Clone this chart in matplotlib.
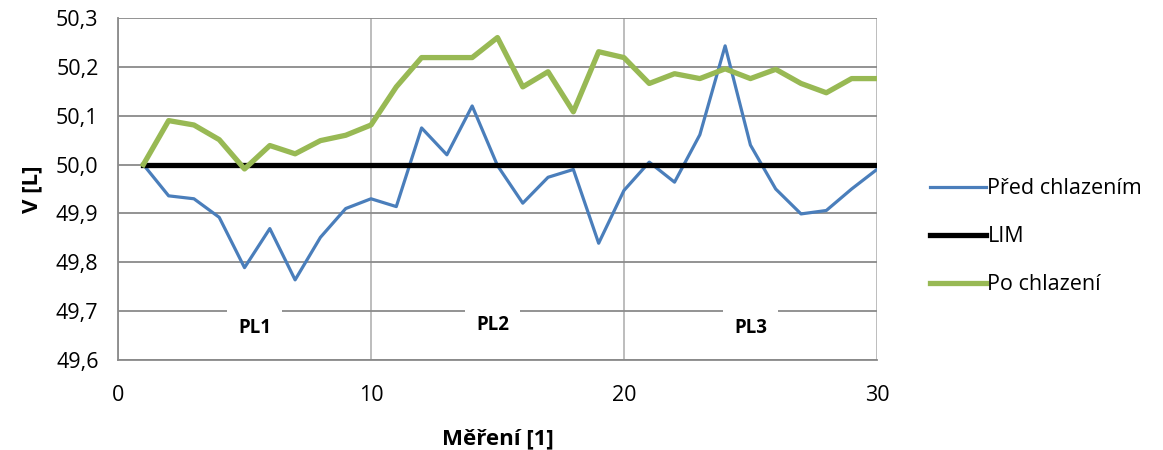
import matplotlib.pyplot as plt

plt.rcParams["font.family"] = ["Open Sans", "DejaVu Sans"]

# measurement numbers and volumes [L]
mereni = list(range(1, 31))
pred_chlazenim = [50.000, 49.936, 49.930, 49.892, 49.789, 49.869, 49.764, 49.851, 49.910, 49.930,
                  49.914, 50.075, 50.020, 50.120, 49.998, 49.921, 49.974, 49.990, 49.839, 49.947,
                  50.005, 49.964, 50.061, 50.243, 50.040, 49.950, 49.899, 49.906, 49.950, 49.990]
po_chlazeni = [50.000, 50.090, 50.081, 50.051, 49.991, 50.039, 50.022, 50.049, 50.060, 50.081,
               50.159, 50.219, 50.219, 50.219, 50.260, 50.159, 50.190, 50.108, 50.231, 50.219,
               50.166, 50.186, 50.176, 50.196, 50.176, 50.195, 50.166, 50.147, 50.176, 50.176]
lim = [50.0] * 30

# labels of the three groups
skupiny = ["PL1", "PL2", "PL3"]
skupiny_x = [5.4, 14.8, 25.0]
skupiny_y = [49.665, 49.672, 49.666]

fig = plt.figure(figsize=(11.63, 4.5), dpi=100)
ax = fig.add_axes([0.1015, 0.2, 0.6525, 0.76])

ax.plot(mereni, pred_chlazenim, color="#4a7ebb", lw=2.3, label="Před chlazením", zorder=3)
ax.plot(mereni, lim, color="black", lw=3.8, label="LIM", zorder=4)
ax.plot(mereni, po_chlazeni, color="#98b954", lw=3.8, label="Po chlazení", zorder=5)

for t, x, y in zip(skupiny, skupiny_x, skupiny_y):
    ax.text(x, y, t, ha="center", va="center", fontsize=13.5, fontweight="bold",
            bbox=dict(facecolor="white", edgecolor="none", boxstyle="square,pad=0.6"),
            zorder=2)

ax.set_xlim(0, 30)
ax.set_ylim(49.6, 50.3)
ax.set_xticks([0, 10, 20, 30])
ax.set_yticks([49.6 + 0.1 * i for i in range(8)])
ax.set_yticklabels([f"{49.6 + 0.1 * i:.1f}".replace(".", ",") for i in range(8)])

ax.grid(axis="y", color="#8a8a8a", lw=1.3, zorder=0)
ax.grid(axis="x", color="#b8b8b8", lw=1.3, zorder=0)
ax.set_axisbelow(True)
for s in ["top", "right"]:
    ax.spines[s].set_visible(False)
ax.spines["left"].set_color("#8a8a8a")
ax.spines["left"].set_linewidth(1.3)
ax.spines["bottom"].set_color("#8a8a8a")
ax.spines["bottom"].set_linewidth(1.3)
ax.tick_params(length=0, labelsize=15.5)
ax.tick_params(axis="x", pad=18)
ax.tick_params(axis="y", pad=14)

ax.set_xlabel("Měření [1]", fontsize=16, fontweight="bold", labelpad=16)
ax.set_ylabel("V [L]", fontsize=16, fontweight="bold", labelpad=10)

ax.legend(loc="center left", bbox_to_anchor=(1.045, 0.36), frameon=False, fontsize=15.5,
          handlelength=2.6, handletextpad=0.05, labelspacing=1.25)

fig.savefig("out.png", dpi=100)
